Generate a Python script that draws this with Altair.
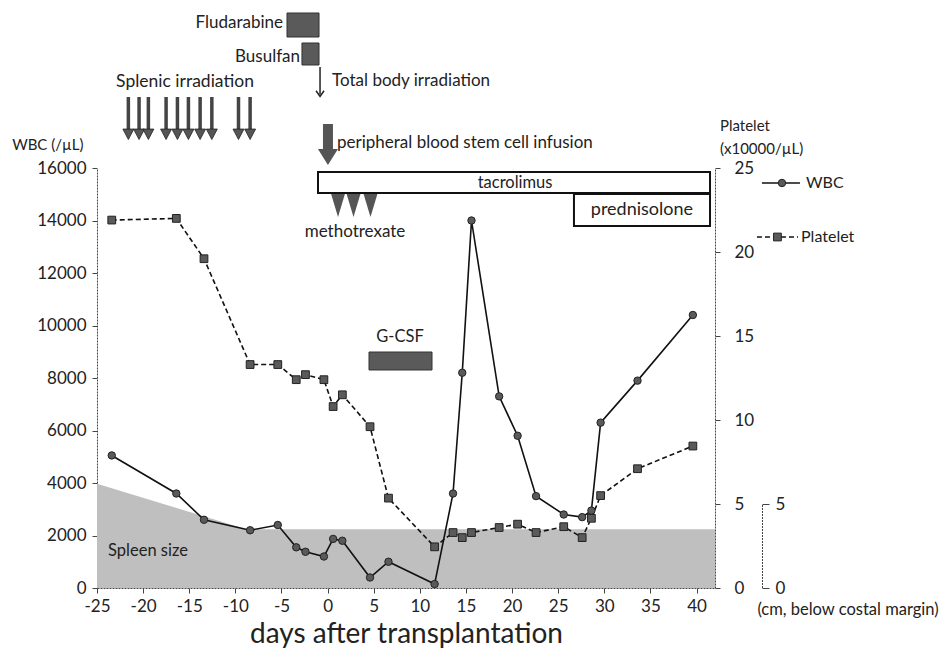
import altair as alt
import pandas as pd

# ---------------- data ----------------
days = [-23.4, -16.4, -13.4, -8.4, -5.4, -3.4, -2.4, -0.4, 0.6, 1.6, 4.6, 6.6,
        11.6, 13.6, 14.6, 15.6, 18.6, 20.6, 22.6, 25.6, 27.6, 28.6, 29.6, 33.6, 39.6]
wbc = [5050, 3600, 2600, 2200, 2400, 1550, 1380, 1200, 1870, 1800, 400, 1000,
       150, 3600, 8200, 14000, 7300, 5800, 3500, 2800, 2700, 2950, 6300, 7900, 10400]
platelet = [21.9, 22.0, 19.6, 13.3, 13.3, 12.4, 12.7, 12.4, 10.8, 11.5, 9.6, 5.35,
            2.45, 3.3, 3.0, 3.3, 3.6, 3.8, 3.3, 3.65, 3.0, 4.15, 5.5, 7.1, 8.45]
spleen_days = [-25, -8.8, 42]
spleen_cm = [6.2, 3.5, 3.5]

x_ticks = list(range(-25, 41, 5))
wbc_ticks = list(range(0, 16001, 2000))
plt_ticks = list(range(0, 26, 5))
spleen_ticks = [0, 5]

# treatment annotations (days, WBC-axis units)
splenic_irr_days = [-21.6, -20.44, -19.43, -17.51, -16.28, -15.09, -13.82, -12.55, -9.66, -8.4]
mtx_days = [1.13, 2.81, 4.65]

boxes = pd.DataFrame({
    "name": ["Fludarabine", "Busulfan", "G-CSF"],
    "x": [-4.4, -2.78, 4.49], "x2": [-0.93, -0.93, 11.32],
    "y": [20990, 19924, 8305], "y2": [21905, 20762, 8990],
})
open_boxes = pd.DataFrame({
    "name": ["tacrolimus", "prednisolone"],
    "x": [-1.04, 26.71], "x2": [41.46, 41.46],
    "y": [15048, 13790], "y2": [15848, 15010],
})

texts_left = pd.DataFrame({
    "t": ["Total body irradiation", "peripheral blood stem  cell infusion", "WBC (/µL)",
          "Platelet", "(x10000/µL)", "WBC", "Platelet", "Spleen size"],
    "x": [0.48, 1.02, -34.2, 42.54, 42.54, 51.87, 51.33, -23.8],
    "y": [19324, 16952, 16876, 17600, 16720, 15429, 13371, 1410],
    "s": [17, 17, 15, 15, 15, 16, 16, 16.5],
})
texts_right = pd.DataFrame({
    "t": ["Fludarabine", "Busulfan"],
    "x": [-4.84, -2.99],
    "y": [21524, 20229],
    "s": [17, 17],
})
texts_center = pd.DataFrame({
    "t": ["Splenic irradiation", "tacrolimus", "prednisolone", "methotrexate", "G-CSF",
          "(cm, below costal margin)"],
    "x": [-15.46, 20.32, 34.08, 2.97, 7.85, 56.42],
    "y": [19276, 15429, 14400, 13562, 9562, -820],
    "s": [17.5, 16.5, 18, 17, 16.5, 16.5],
})

# ---------------- scales / helpers ----------------
FONT = "Lato"
INK = "#222222"
MARK_GRAY = "#5a5a5a"

xs = alt.Scale(domain=[-25, 42], nice=False, zero=False)
x_axis = alt.Axis(values=x_ticks, title="days after transplantation", titleFontSize=28,
                  titleFontWeight="normal", titlePadding=6, labelFontSize=17,
                  labelPadding=5, tickSize=5, grid=False, domainDash=[2, 1],
                  labelFlush=False, labelExpr="toString(datum.value)",
                  domainColor="#444", tickColor="#444", labelColor=INK, titleColor=INK)


def X(field="x"):
    return alt.X(f"{field}:Q", scale=xs, axis=x_axis)


def Yw(field="y", axis=None):
    return alt.Y(f"{field}:Q", scale=alt.Scale(domain=[0, 16000], nice=False, zero=False),
                 axis=axis)


def Yp(field, axis=None):
    return alt.Y(f"{field}:Q", scale=alt.Scale(domain=[0, 25], nice=False, zero=False),
                 axis=axis)


df = pd.DataFrame({"day": days, "wbc": wbc, "platelet": platelet})
spleen_df = pd.DataFrame({"day": spleen_days, "cm": spleen_cm})

# spleen area with its own small axis
spleen = alt.Chart(spleen_df).mark_area(color="#bfbfbf").encode(
    x=X("day"),
    y=Yp("cm", axis=alt.Axis(orient="right", offset=47, values=spleen_ticks, domain=False,
                             tickSize=7, tickColor="#444", labelFontSize=17, labelFlush=False,
                             labelPadding=6, labelColor=INK, title=None, grid=False)),
)
spleen_bracket = alt.Chart(pd.DataFrame({"x": [47.15], "a": [0], "b": [5]})).mark_rule(
    color="#444", strokeWidth=1, strokeDash=[2, 1]).encode(
    x=X("x"), y=Yp("a"), y2="b")

# WBC
wbc_line = alt.Chart(df).mark_line(color="#111", strokeWidth=1.6).encode(
    x=X("day"),
    y=Yw("wbc", axis=alt.Axis(orient="left", values=wbc_ticks, format="d", title=None,
                              labelFontSize=17, labelPadding=6, tickSize=5, labelFlush=False,
                              domainDash=[2, 1], domainColor="#444", tickColor="#444",
                              labelColor=INK, grid=False)),
)
wbc_pts = alt.Chart(df).mark_point(shape="circle", filled=True, size=55, color=MARK_GRAY,
                                   stroke="#222", strokeWidth=1, opacity=1).encode(
    x=X("day"), y=Yw("wbc"))

# Platelet
plt_line = alt.Chart(df).mark_line(color="#111", strokeWidth=1.6, strokeDash=[5, 3]).encode(
    x=X("day"),
    y=Yp("platelet", axis=alt.Axis(orient="right", values=plt_ticks, title=None,
                                   labelFontSize=17, labelPadding=14, tickSize=5,
                                   labelFlush=False,
                                   domainDash=[2, 1], domainColor="#444", tickColor="#444",
                                   labelColor=INK, grid=False)),
)
plt_pts = alt.Chart(df).mark_point(shape="square", filled=True, size=60, color=MARK_GRAY,
                                   stroke="#222", strokeWidth=1, opacity=1).encode(
    x=X("day"), y=Yp("platelet"))

# filled treatment boxes
dark_boxes = alt.Chart(boxes).mark_rect(color=MARK_GRAY, stroke="#333", strokeWidth=1).encode(
    x=X("x"), x2="x2", y=Yw("y"), y2="y2")
white_boxes = alt.Chart(open_boxes).mark_rect(fill="white", stroke="#111", strokeWidth=2).encode(
    x=X("x"), x2="x2", y=Yw("y"), y2="y2")

# splenic irradiation arrows
irr_df = pd.DataFrame({"x": splenic_irr_days, "top": [18705] * len(splenic_irr_days),
                       "bot": [17448] * len(splenic_irr_days),
                       "head": [17295] * len(splenic_irr_days)})
irr_shaft = alt.Chart(irr_df).mark_rule(color="#444", strokeWidth=3.5).encode(
    x=X("x"), y=Yw("top"), y2="bot")
irr_head = alt.Chart(irr_df).mark_point(shape="M-1,-0.9L1,-0.9L0,1Z", size=121, filled=True,
                                        color="#555", stroke="#222", strokeWidth=0.8,
                                        opacity=1).encode(x=X("x"), y=Yw("head"))

# total body irradiation arrow (thin)
tbi_df = pd.DataFrame({"x": [-0.82], "top": [19848], "bot": [18800], "head": [18850]})
tbi_shaft = alt.Chart(tbi_df).mark_rule(color="#222", strokeWidth=1.5).encode(
    x=X("x"), y=Yw("top"), y2="bot")
tbi_head = alt.Chart(tbi_df).mark_point(shape="M-1,-0.6L0,0.8L1,-0.6", size=64, filled=False,
                                        color="#222", strokeWidth=1.5, opacity=1).encode(
    x=X("x"), y=Yw("head"))

# PBSC infusion arrow (thick)
pbsc_df = pd.DataFrame({"x": [0.04], "top": [17676], "bot": [16686], "head": [16419]})
pbsc_shaft = alt.Chart(pbsc_df).mark_rule(color="#555", strokeWidth=10).encode(
    x=X("x"), y=Yw("top"), y2="bot")
pbsc_head = alt.Chart(pbsc_df).mark_point(shape="M-1,-0.8L1,-0.8L0,0.8Z", size=400, filled=True,
                                          color="#555", opacity=1).encode(
    x=X("x"), y=Yw("head"))

# methotrexate triangles
mtx_df = pd.DataFrame({"x": mtx_days, "y": [14572] * len(mtx_days)})
mtx = alt.Chart(mtx_df).mark_point(shape="M-0.6,-1L0.6,-1L0,1Z", size=529, filled=True,
                                   color="#555", opacity=1).encode(x=X("x"), y=Yw("y"))

# manual legend
leg_lines = pd.DataFrame({"x": [47.09, 46.55], "x2": [51.21, 51.0], "y": [15429, 13371]})
leg_solid = alt.Chart(leg_lines.iloc[[0]]).mark_rule(color="#111", strokeWidth=1.6).encode(
    x=X("x"), x2="x2", y=Yw("y"))
leg_dash = alt.Chart(leg_lines.iloc[[1]]).mark_rule(color="#111", strokeWidth=1.6,
                                                   strokeDash=[5, 3]).encode(
    x=X("x"), x2="x2", y=Yw("y"))
leg_c = alt.Chart(pd.DataFrame({"x": [49.26], "y": [15429]})).mark_point(
    shape="circle", filled=True, size=55, color=MARK_GRAY, stroke="#222", strokeWidth=1,
    opacity=1).encode(x=X("x"), y=Yw("y"))
leg_s = alt.Chart(pd.DataFrame({"x": [48.77], "y": [13371]})).mark_point(
    shape="square", filled=True, size=60, color=MARK_GRAY, stroke="#222", strokeWidth=1,
    opacity=1).encode(x=X("x"), y=Yw("y"))


def text_layer(d, align):
    return alt.Chart(d).mark_text(align=align, baseline="middle", color=INK, font=FONT).encode(
        x=X("x"), y=Yw("y"), text="t:N", size=alt.Size("s:Q", scale=None, legend=None))


chart = alt.layer(
    spleen, spleen_bracket, dark_boxes, white_boxes, irr_shaft, irr_head, tbi_shaft, tbi_head,
    pbsc_shaft, pbsc_head, mtx, plt_line, plt_pts, wbc_line, wbc_pts,
    leg_solid, leg_dash, leg_c, leg_s,
    text_layer(texts_left, "left"), text_layer(texts_right, "right"),
    text_layer(texts_center, "center"),
).resolve_scale(y="independent").properties(
    width=618, height=420,
    padding={"left": 97, "top": 168, "right": 230, "bottom": 66},
    autosize=alt.AutoSizeParams(type="none"),
    background="white",
).configure(font=FONT).configure_view(stroke=None)

chart.save("out.html", embed_options={"renderer": "svg", "actions": False})
